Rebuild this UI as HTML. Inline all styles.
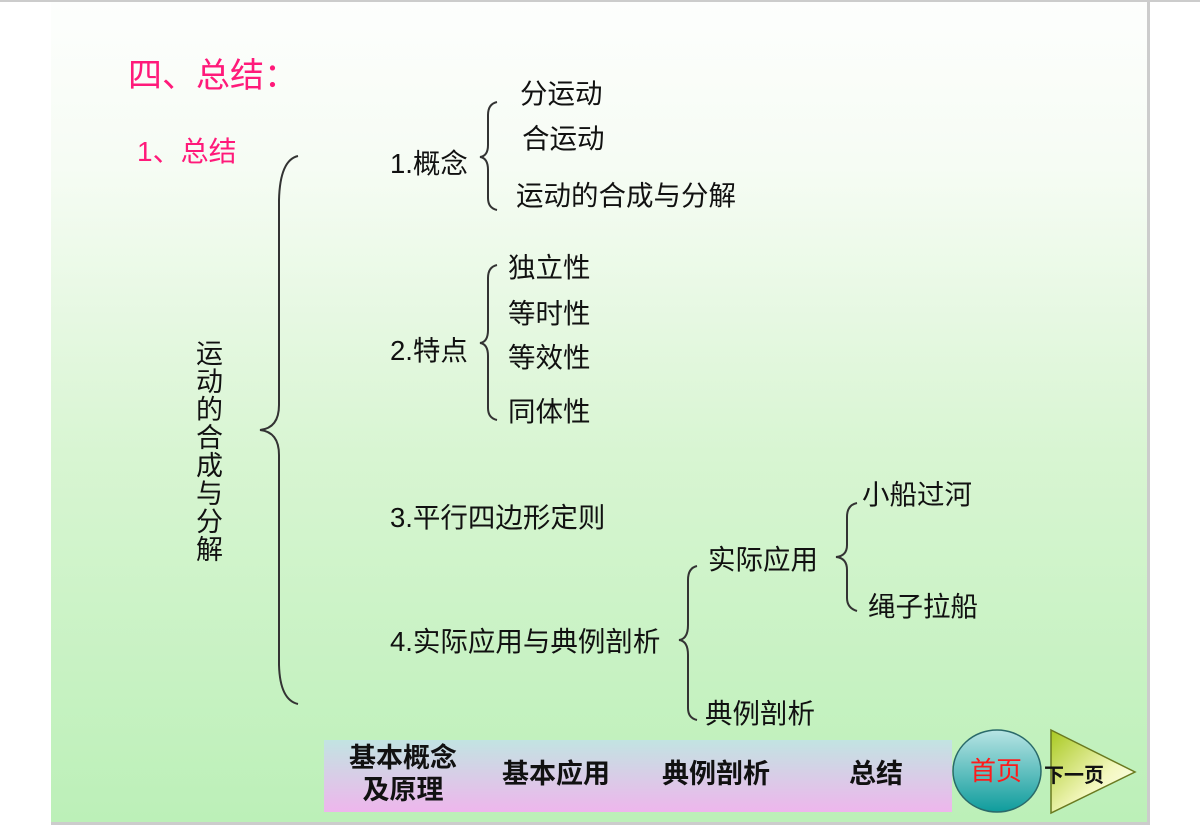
<!DOCTYPE html>
<html><head><meta charset="utf-8">
<style>
body{margin:0;width:1200px;height:825px;background:#fff;position:relative;overflow:hidden;font-family:"Liberation Sans","Noto Sans CJK SC",sans-serif;}
#slide{position:absolute;left:51px;top:2px;width:1096px;height:820px;background:linear-gradient(#fdfefd 0%,#f6fcf4 20%,#d8f5d2 55%,#bcf0b8 100%);}
.t{position:absolute;font-size:27.5px;color:#111;white-space:nowrap;line-height:30px;}
.p{color:#ff1a7a;}
.b{font-weight:bold;font-size:27px;position:absolute;white-space:nowrap;color:#111;text-align:center;line-height:32px;}
</style></head><body>
<div id="slide"></div>
<div style="position:absolute;left:0;top:0;width:1200px;height:2px;background:#ccc"></div>
<div style="position:absolute;left:51px;top:822px;width:1096px;height:3px;background:#ccc"></div>
<div style="position:absolute;left:1147px;top:0;width:3px;height:825px;background:#ccc"></div>
<div class="t p" style="left:128px;top:57px;font-size:34px;line-height:38px">四、总结：</div>
<div class="t p" style="left:137px;top:137px;font-size:28px">1、总结</div>
<div class="t" style="left:196px;top:340px;width:28px;font-size:27px;line-height:28px;white-space:normal">运动的合成与分解</div>
<div class="t" style="left:390px;top:149px">1.概念</div>
<div class="t" style="left:520px;top:79px">分运动</div>
<div class="t" style="left:522px;top:124px">合运动</div>
<div class="t" style="left:516px;top:181px">运动的合成与分解</div>
<div class="t" style="left:508px;top:253px">独立性</div>
<div class="t" style="left:508px;top:299px">等时性</div>
<div class="t" style="left:508px;top:343px">等效性</div>
<div class="t" style="left:508px;top:397px">同体性</div>
<div class="t" style="left:390px;top:336px">2.特点</div>
<div class="t" style="left:390px;top:503px">3.平行四边形定则</div>
<div class="t" style="left:390px;top:627px">4.实际应用与典例剖析</div>
<div class="t" style="left:708px;top:545px">实际应用</div>
<div class="t" style="left:705px;top:699px">典例剖析</div>
<div class="t" style="left:862px;top:480px">小船过河</div>
<div class="t" style="left:868px;top:592px">绳子拉船</div>
<svg style="position:absolute;left:0;top:0" width="1200" height="825" fill="none" stroke="#333" stroke-width="2">
<path d="M298 156 Q280 160 279 200 L279 405 Q279 428 260 430 Q279 432 279 455 L279 665 Q280 700 298 704"/>
<path d="M497 102 Q488 104 488 115 L488 145 Q488 156 480 157 Q488 158 488 170 L488 198 Q488 208 497 210"/>
<path d="M497 265 Q488 267 488 278 L488 330 Q488 342 480 343 Q488 344 488 356 L488 408 Q488 418 497 420"/>
<path d="M697 566 Q688 568 688 580 L688 625 Q688 639 679 640 Q688 641 688 655 L688 708 Q688 718 697 720"/>
<path d="M857 503 Q847 505 847 517 L847 545 Q847 556 836 557 Q847 558 847 570 L847 598 Q847 608 857 611"/>
<defs>
<linearGradient id="c" x1="0" y1="0" x2="0" y2="1"><stop offset="0" stop-color="#b8e4e4"/><stop offset="1" stop-color="#0e9c9c"/></linearGradient>
<linearGradient id="tr" x1="0" y1="0" x2="1" y2="1"><stop offset="0" stop-color="#a8c820"/><stop offset="0.6" stop-color="#f4f8c0"/><stop offset="1" stop-color="#ffffff"/></linearGradient>
<linearGradient id="bar" x1="0" y1="0" x2="0" y2="1"><stop offset="0" stop-color="#c2e4e2"/><stop offset="1" stop-color="#eeb6ec"/></linearGradient>
</defs>
<rect x="324" y="740" width="628" height="72" fill="url(#bar)" stroke="none"/>
<ellipse cx="997" cy="771" rx="44" ry="41" fill="url(#c)" stroke="#2a6a6a" stroke-width="1.5"/>
<polygon points="1051,730 1135,772 1051,813" fill="url(#tr)" stroke="#6a7a20" stroke-width="1.5"/>
</svg>
<div class="b" style="left:338px;top:742px;width:130px">基本概念<br>及原理</div>
<div class="b" style="left:496px;top:758px;width:120px">基本应用</div>
<div class="b" style="left:656px;top:758px;width:120px">典例剖析</div>
<div class="b" style="left:816px;top:758px;width:120px">总结</div>
<div class="t" style="left:970px;top:756px;color:#ff1a1a;font-size:26px">首页</div>
<div class="b" style="left:1044px;top:760px;font-size:20px">下一页</div>
</body></html>
